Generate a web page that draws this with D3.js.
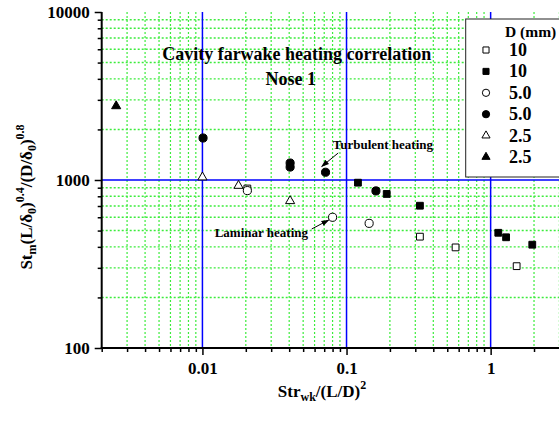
<!DOCTYPE html>
<html>
<head>
<meta charset="utf-8">
<script src="https://cdn.jsdelivr.net/npm/d3@7"></script>
<style>
  body { margin: 0; background: #fff; }
  svg text { font-family: "Liberation Serif", "Times New Roman", serif; font-weight: bold; }
</style>
</head>
<body>
<div id="chart"></div>
<script>
// Cavity farwake heating correlation, Nose 1

const xTicks = [0.01, 0.1, 1];
const xTickLabels = ["0.01", "0.1", "1"];
const yTicks = [100, 1000, 10000];
const yTickLabels = ["100", "1000", "10000"];

// D = 10 mm, open squares
const sqOpenX = [0.0205, 0.323, 0.571, 1.515];
const sqOpenY = [890, 460, 397, 307];
// D = 10 mm, filled squares
const sqFillX = [0.12, 0.19, 0.323, 1.13, 1.28, 1.945];
const sqFillY = [964, 826, 703, 485, 456, 412];
// D = 5.0 mm, open circles
const ciOpenX = [0.0205, 0.08, 0.1435];
const ciOpenY = [865, 600, 552];
// D = 5.0 mm, filled circles
const ciFillX = [0.0101, 0.0406, 0.0406, 0.0715, 0.16];
const ciFillY = [1778, 1262, 1194, 1112, 861];
// D = 2.5 mm, open triangles
const trOpenX = [0.01, 0.0178, 0.0406];
const trOpenY = [1038, 925, 750];
// D = 2.5 mm, filled triangles
const trFillX = [0.00252];
const trFillY = [2754];

const legendLabels = ["10", "10", "5.0", "5.0", "2.5", "2.5"];

const series = [
  { xs: sqOpenX, ys: sqOpenY, shape: d3.symbolSquare, filled: false },
  { xs: sqFillX, ys: sqFillY, shape: d3.symbolSquare, filled: true },
  { xs: ciOpenX, ys: ciOpenY, shape: d3.symbolCircle, filled: false },
  { xs: ciFillX, ys: ciFillY, shape: d3.symbolCircle, filled: true },
  { xs: trOpenX, ys: trOpenY, shape: d3.symbolTriangle, filled: false },
  { xs: trFillX, ys: trFillY, shape: d3.symbolTriangle, filled: true }
];

const width = 559, height = 421;
const margin = { top: 12, left: 101.7 };
const innerW = 457.7, innerH = 336;

const svg = d3.select("#chart").append("svg")
  .attr("width", width).attr("height", height);

const defs = svg.append("defs");
defs.append("marker")
  .attr("id", "arrow").attr("viewBox", "0 0 10 10")
  .attr("refX", 9).attr("refY", 5)
  .attr("markerWidth", 8).attr("markerHeight", 8)
  .attr("orient", "auto-start-reverse")
  .append("path").attr("d", "M0,1.5 L10,5 L0,8.5 Z").attr("fill", "#000");

const g = svg.append("g").attr("transform", `translate(${margin.left},${margin.top})`);

const x = d3.scaleLog().domain([0.002, 3]).range([0, innerW]);
const y = d3.scaleLog().domain([100, 10000]).range([innerH, 0]);

// minor values
const xMinor = [];
[0.001, 0.01, 0.1, 1].forEach(b => { for (let k = 2; k <= 9; k++) { const v = b * k; if (v >= 0.002 && v <= 3.0001) xMinor.push(v); } });
const yMinor = [];
[100, 1000].forEach(b => { for (let k = 2; k <= 9; k++) yMinor.push(b * k); });

// green dotted grid
const grid = g.append("g");
grid.selectAll("line.gx").data(xMinor.filter(v => v > 0.002)).enter().append("line")
  .attr("x1", d => x(d)).attr("x2", d => x(d))
  .attr("y1", 0).attr("y2", innerH)
  .attr("stroke", "#3cec3c").attr("stroke-width", 1.2).attr("stroke-dasharray", "2,2");
grid.selectAll("line.gy").data(yMinor).enter().append("line")
  .attr("x1", 0).attr("x2", innerW)
  .attr("y1", d => y(d)).attr("y2", d => y(d))
  .attr("stroke", "#3cec3c").attr("stroke-width", 1.4).attr("stroke-dasharray", "2,2");

// blue major grid
grid.selectAll("line.bx").data(xTicks).enter().append("line")
  .attr("x1", d => x(d)).attr("x2", d => x(d))
  .attr("y1", 0).attr("y2", innerH)
  .attr("stroke", "#0000ff").attr("stroke-width", 1.5);
grid.selectAll("line.by").data([1000]).enter().append("line")
  .attr("x1", 0).attr("x2", innerW)
  .attr("y1", d => y(d)).attr("y2", d => y(d))
  .attr("stroke", "#0000ff").attr("stroke-width", 1.5);

// axes
g.append("g").attr("transform", `translate(0,${innerH})`)
  .call(d3.axisBottom(x).tickValues(xMinor).tickSize(4).tickFormat(""))
  .call(a => a.select(".domain").remove())
  .call(a => a.selectAll("line").attr("stroke-width", 1.5));
g.append("g").attr("transform", `translate(0,${innerH})`)
  .call(d3.axisBottom(x).tickValues(xTicks).tickSize(7).tickPadding(7)
    .tickFormat((d, i) => xTickLabels[i]))
  .call(a => a.select(".domain").remove())
  .call(a => a.selectAll("line").attr("stroke-width", 1.5))
  .call(a => a.selectAll("text").attr("font-size", 17).attr("font-family", null).attr("fill", "#000"));

g.append("g")
  .call(d3.axisLeft(y).tickValues(yMinor).tickSize(4).tickFormat(""))
  .call(a => a.select(".domain").remove())
  .call(a => a.selectAll("line").attr("stroke-width", 1.5));
g.append("g")
  .call(d3.axisLeft(y).tickValues(yTicks).tickSize(7).tickPadding(5)
    .tickFormat((d, i) => yTickLabels[i]))
  .call(a => a.select(".domain").remove())
  .call(a => a.selectAll("line").attr("stroke-width", 1.5))
  .call(a => a.selectAll("text").attr("font-size", 17).attr("font-family", null).attr("fill", "#000"));

g.append("line").attr("x1", 0).attr("x2", 0).attr("y1", 0).attr("y2", innerH + 1)
  .attr("stroke", "#000").attr("stroke-width", 2);
g.append("line").attr("x1", -1).attr("x2", innerW).attr("y1", innerH).attr("y2", innerH)
  .attr("stroke", "#000").attr("stroke-width", 2);

// data points
const sizeOf = s => s === d3.symbolSquare ? 46 : s === d3.symbolCircle ? 52 : 36;
series.forEach(s => {
  const pts = s.xs.map((v, i) => [v, s.ys[i]]);
  g.append("g").selectAll("path").data(pts).enter().append("path")
    .attr("d", d3.symbol().type(s.shape).size(sizeOf(s.shape)))
    .attr("transform", d => `translate(${x(d[0])},${y(d[1])})`)
    .attr("fill", s.filled ? "#000" : "#fff")
    .attr("stroke", "#000").attr("stroke-width", 1);
});

// titles
g.append("text").attr("x", 195).attr("y", 48).attr("text-anchor", "middle")
  .attr("font-size", 18).text("Cavity farwake heating correlation");
g.append("text").attr("x", 189).attr("y", 73).attr("text-anchor", "middle")
  .attr("font-size", 18).text("Nose 1");

// annotations
g.append("text").attr("x", 231).attr("y", 137).attr("font-size", 13).text("Turbulent heating");
g.append("line").attr("x1", 236.5).attr("y1", 141).attr("x2", 220).attr("y2", 154.5)
  .attr("stroke", "#000").attr("stroke-width", 1).attr("marker-end", "url(#arrow)");
g.append("text").attr("x", 113).attr("y", 225).attr("font-size", 13).text("Laminar heating");
g.append("line").attr("x1", 210).attr("y1", 217).attr("x2", 227).attr("y2", 208)
  .attr("stroke", "#000").attr("stroke-width", 1).attr("marker-end", "url(#arrow)");

// legend
const leg = svg.append("g");
leg.append("rect").attr("x", 465.7).attr("y", 19).attr("width", 100).attr("height", 158)
  .attr("fill", "#fff").attr("stroke", "#222").attr("stroke-width", 1);
leg.append("text").attr("x", 505).attr("y", 37).attr("font-size", 15.5).text("D (mm)");
series.forEach((s, i) => {
  const cy = 50 + i * 21.4;
  leg.append("path")
    .attr("d", d3.symbol().type(s.shape).size(sizeOf(s.shape) * 0.8))
    .attr("transform", `translate(486,${cy})`)
    .attr("fill", s.filled ? "#000" : "#fff")
    .attr("stroke", "#000").attr("stroke-width", 1);
  leg.append("text").attr("x", 509).attr("y", cy + 6).attr("font-size", 18).text(legendLabels[i]);
});

// x axis title
const xt = svg.append("text").attr("x", 322).attr("y", 397).attr("text-anchor", "middle").attr("font-size", 17);
xt.append("tspan").text("Str");
xt.append("tspan").attr("font-size", 12).attr("dy", 4).text("wk");
xt.append("tspan").attr("dy", -4).text("/(L/D)");
xt.append("tspan").attr("font-size", 12).attr("dy", -8).text("2");

// y axis title
const yt = svg.append("text").attr("transform", "translate(32,197) rotate(-90)")
  .attr("text-anchor", "middle").attr("font-size", 17);
yt.append("tspan").text("St");
yt.append("tspan").attr("font-size", 12).attr("dy", 4).text("m");
yt.append("tspan").attr("dy", -4).text("(L/δ");
yt.append("tspan").attr("font-size", 12).attr("dy", 4).text("0");
yt.append("tspan").attr("dy", -4).text(")");
yt.append("tspan").attr("font-size", 12).attr("dy", -8).text("0.4");
yt.append("tspan").attr("dy", 8).text("/(D/δ");
yt.append("tspan").attr("font-size", 12).attr("dy", 4).text("0");
yt.append("tspan").attr("dy", -4).text(")");
yt.append("tspan").attr("font-size", 12).attr("dy", -8).text("0.8");
</script>
</body>
</html>
